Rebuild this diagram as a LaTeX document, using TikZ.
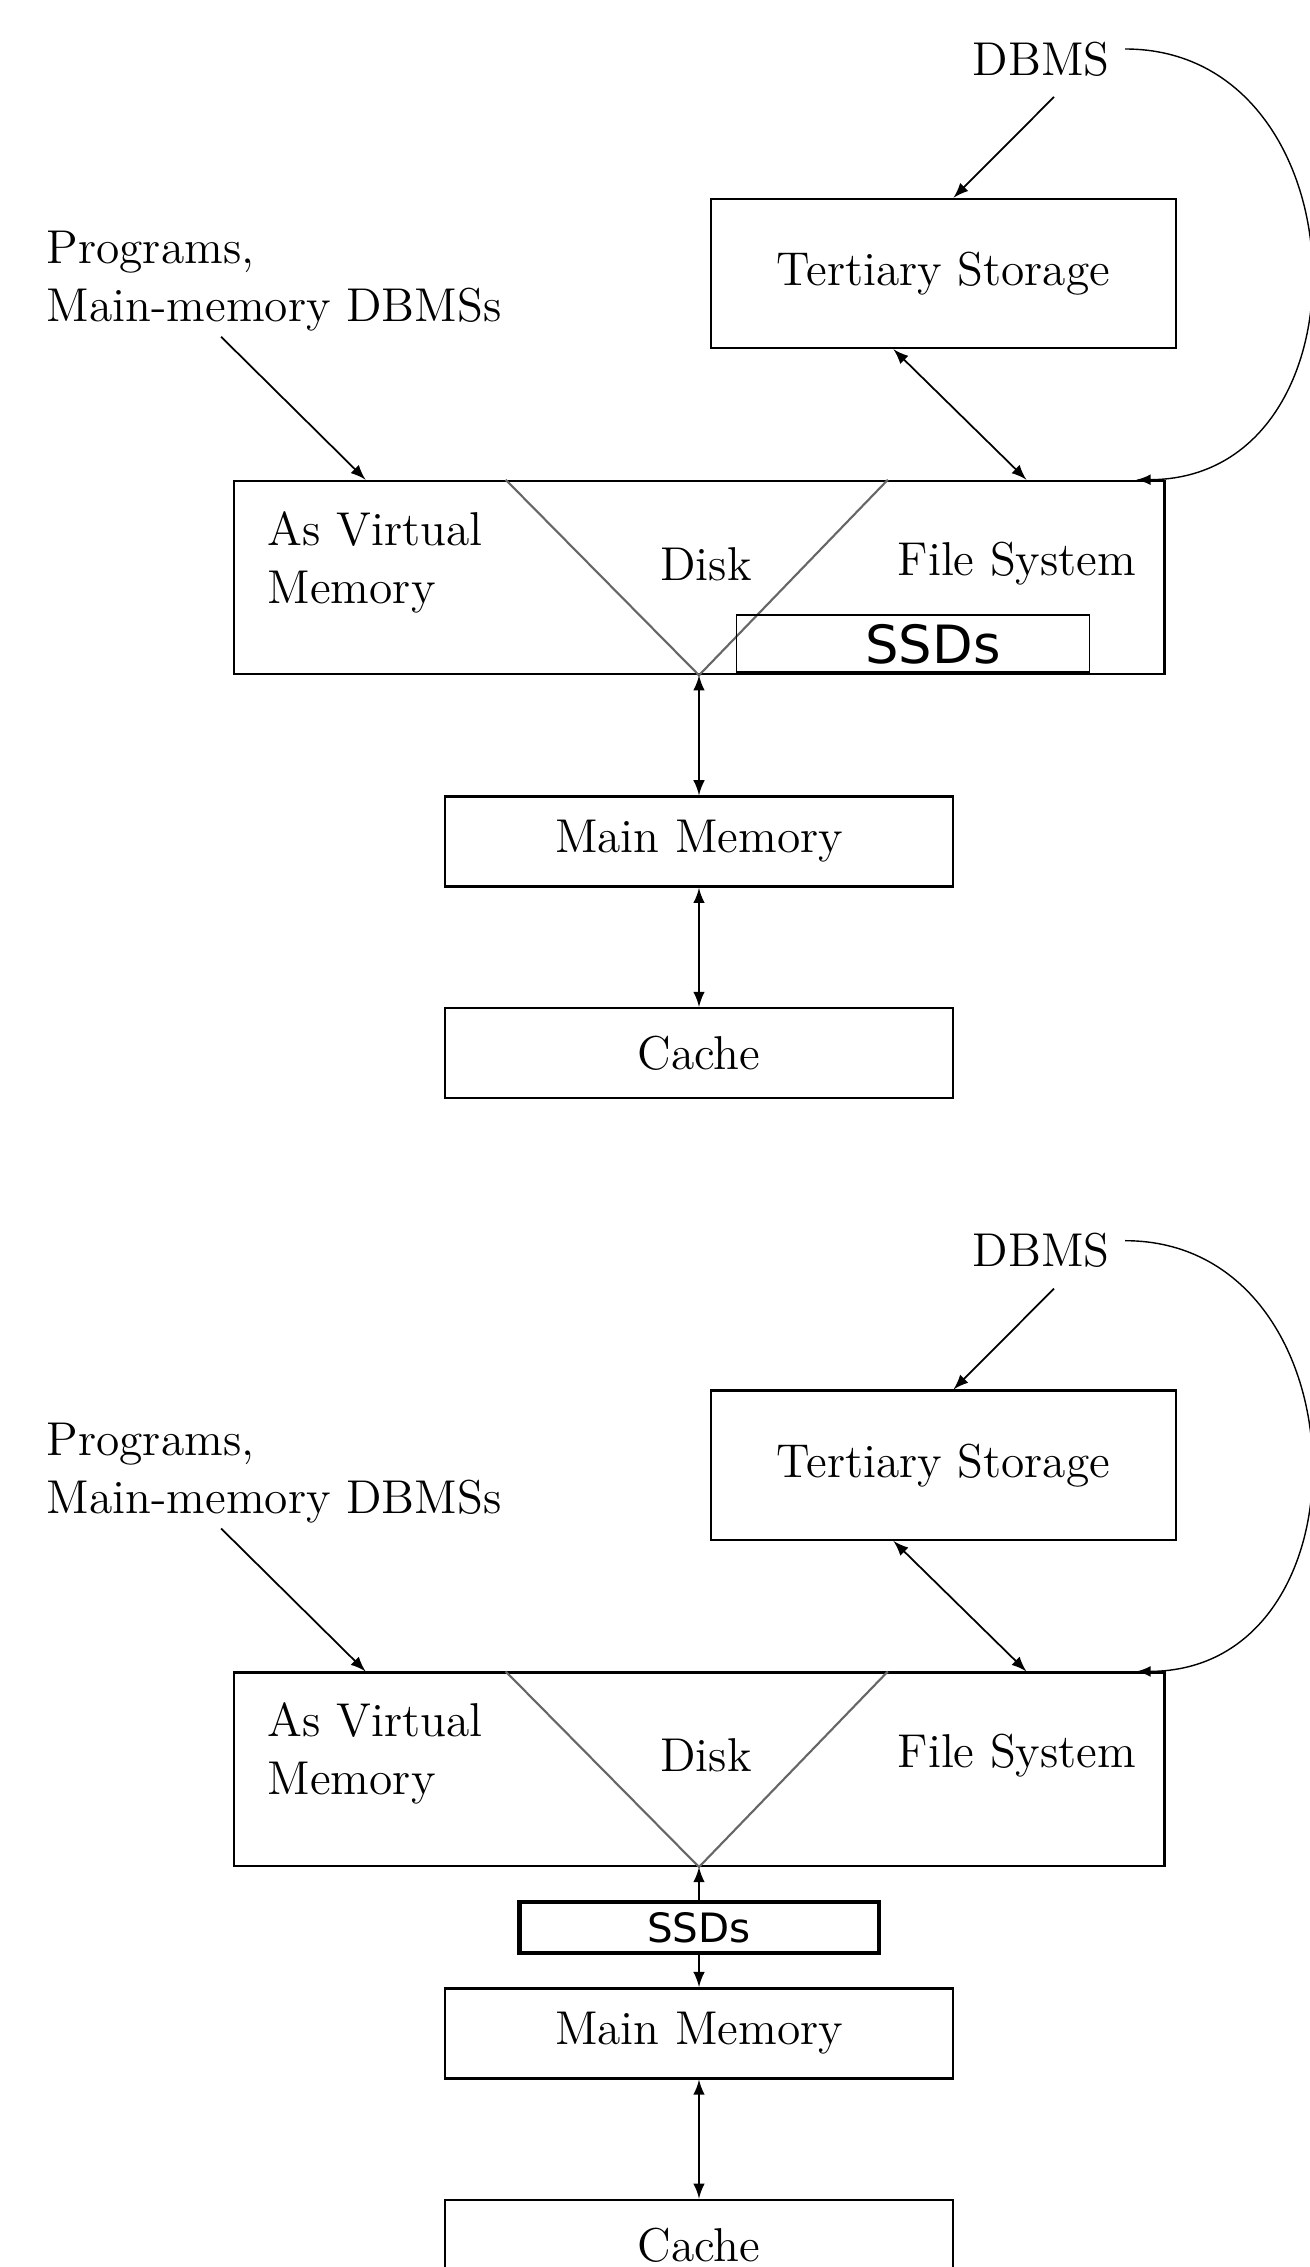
\documentclass[tikz,border=0pt]{standalone}
\usepackage{fontspec}
\newfontfamily\ssdfont{DejaVu Sans}
\usetikzlibrary{positioning,arrows}

\begin{document}
\begin{tikzpicture}[x=0.01cm,y=-0.01cm,
  txt/.style={inner sep=0pt,font=\fontsize{13.5}{16.5}\selectfont},
  box/.style={draw,line width=0.7pt,inner sep=0pt,font=\fontsize{13.5}{16.5}\selectfont},
  ssd/.style={draw,inner sep=0pt},
  link/.style={-latex,line width=0.5pt},
  vline/.style={black!60,line width=0.6pt}]

\useasboundingbox (0,0) rectangle (1310,2267);
\clip (0,0) rectangle (1310,2267);

% the same hierarchy twice, only the SSDs differ
\foreach \d/\off in {1/0cm,2/-11.91cm}
{
\begin{scope}[yshift=\off]
\node [txt] (dbms\d) at (1041,59) {DBMS};
\node [box,minimum width=4.65cm,minimum height=1.49cm] (tert\d) at (943.5,273.5) {Tertiary Storage};
\node [txt,align=left,anchor=west] (prog\d) at (46,281) {Programs,\\Main-memory DBMSs};
\node [box,minimum width=9.3cm,minimum height=1.93cm] (disk\d) at (699,577.5) {};
\node [txt,align=left,anchor=west] (virt\d) at (267,562) {As Virtual\\Memory};
\node [txt] (dlab\d) at (706,564) {Disk};
\node [txt] (fs\d) at (1017,564) {File System};
\node [box,below=1.2cm of disk\d,minimum width=5.08cm,minimum height=0.9cm] (mem\d) {Main Memory};
\node [box,below=1.19cm of mem\d,minimum width=5.08cm,minimum height=0.9cm] (cache\d) {Cache};

\draw [vline] ([xshift=2.73cm]disk\d.north west) -- (disk\d.south) -- ([xshift=6.55cm]disk\d.north west);

\draw [link] ([xshift=1.75cm,yshift=-0.05cm]prog\d.south west) -- ([xshift=1.33cm]disk\d.north west);
\draw [link] ([xshift=0.13cm,yshift=-0.2cm]dbms\d.south) -- ([xshift=0.1cm]tert\d.north);
\draw [link,latex-latex] ([xshift=-0.5cm]tert\d.south) -- ([xshift=-1.39cm]disk\d.north east);
\draw [-latex,line width=0.4pt] ([xshift=0.15cm,yshift=0.1cm]dbms\d.east) .. controls +(2.4cm,0) and +(2.4cm,0) .. ([xshift=-0.29cm]disk\d.north east);
\draw [link,latex-latex] (mem\d.south) -- (cache\d.north);
\end{scope}
}

% SSDs inside the disk level
\node [ssd,line width=0.5pt,minimum width=3.53cm,minimum height=0.57cm,font=\ssdfont\fontsize{15}{18}\selectfont,anchor=south east] (ssd1) at ([xshift=-0.75cm,yshift=0.02cm]disk1.south east) {\hspace*{0.4cm}SSDs};
\draw [line width=1.2pt] (ssd1.south west) -- (ssd1.south east);
\draw [link,latex-latex] (disk1.south) -- (mem1.north);

% SSDs between disk and main memory
\node [ssd,line width=1.2pt,below=0.33cm of disk2,minimum width=3.59cm,minimum height=0.51cm,font=\ssdfont\fontsize{11.5}{14}\selectfont] (ssd2) {SSDs};
\draw [link] (ssd2.north) -- (disk2.south);
\draw [link] (ssd2.south) -- (mem2.north);
\end{tikzpicture}
\end{document}
